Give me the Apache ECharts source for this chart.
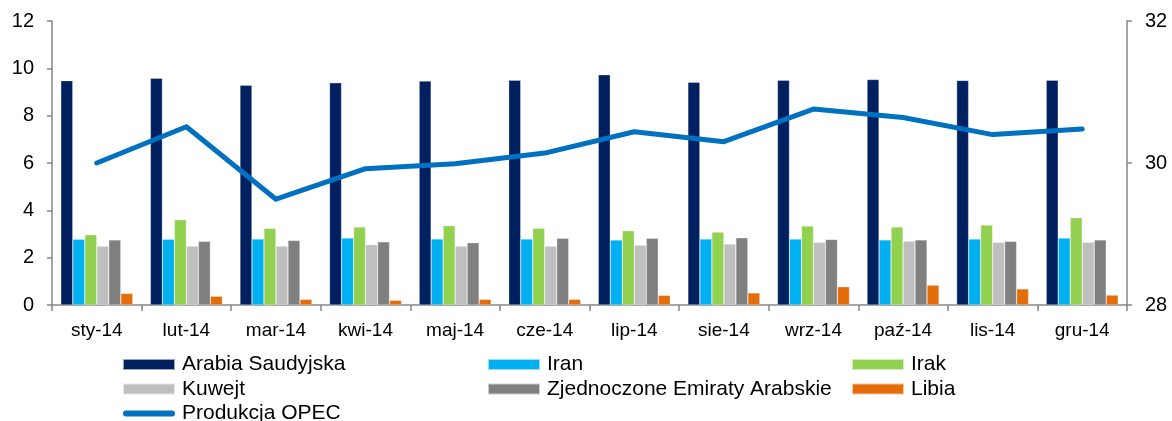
<!DOCTYPE html>
<html>
<head>
<meta charset="utf-8">
<title>OPEC</title>
<script src="https://cdn.jsdelivr.net/npm/echarts@6/dist/echarts.min.js"></script>
<style>
  html, body { margin: 0; padding: 0; background: #fff; }
  #main { width: 1172px; height: 421px; }
</style>
</head>
<body>
<div id="main"></div>
<script>
var months = ['sty-14', 'lut-14', 'mar-14', 'kwi-14', 'maj-14', 'cze-14', 'lip-14', 'sie-14', 'wrz-14', 'paź-14', 'lis-14', 'gru-14'];

var arabia = [9.48, 9.58, 9.29, 9.39, 9.46, 9.5, 9.73, 9.41, 9.5, 9.53, 9.49, 9.5];
var iran = [2.78, 2.78, 2.79, 2.83, 2.79, 2.79, 2.75, 2.79, 2.79, 2.75, 2.79, 2.83];
var irak = [2.97, 3.6, 3.24, 3.3, 3.35, 3.24, 3.14, 3.08, 3.34, 3.3, 3.38, 3.69];
var kuwejt = [2.49, 2.49, 2.49, 2.55, 2.49, 2.49, 2.53, 2.58, 2.65, 2.7, 2.65, 2.65];
var zea = [2.75, 2.69, 2.73, 2.67, 2.63, 2.82, 2.82, 2.84, 2.77, 2.75, 2.69, 2.75];
var libia = [0.49, 0.37, 0.24, 0.2, 0.24, 0.24, 0.41, 0.51, 0.77, 0.84, 0.68, 0.42];
var opec = [30.0, 30.51, 29.49, 29.92, 29.99, 30.14, 30.44, 30.3, 30.76, 30.64, 30.4, 30.48];

var leftTicks = { min: 0, max: 12, interval: 2 };
var rightTicks = { min: 28, max: 32, interval: 2 };

var font = 'Liberation Sans, Arial, sans-serif';
var axisGray = '#868686';
// thin rounded line for the line series legend (the two M points keep the 52x11 box)
var lineIcon = 'path://M0,0 M52,11 M3,2.5 L49,2.5 A3,3,0,0,1,49,8.5 L3,8.5 A3,3,0,0,1,3,2.5 Z';

function bar(name, data, color) {
  return {
    name: name,
    type: 'bar',
    data: data,
    barWidth: 12,
    barGap: '0%',
    itemStyle: { color: color, borderColor: 'rgba(255,255,255,0.6)', borderWidth: 0.5 }
  };
}

// one legend per column, Excel puts them in a 3-column grid
function legendCol(left, names) {
  return {
    orient: 'vertical',
    left: left,
    top: 354,
    height: 70,
    padding: 0,
    itemWidth: 52,
    itemHeight: 11,
    itemGap: 3.5,
    icon: 'rect',
    data: names.map(function (n) {
      return n === 'Produkcja OPEC' ? { name: n, icon: lineIcon, itemStyle: { color: '#0070C0' } } : n;
    }),
    textStyle: { fontFamily: font, fontSize: 21, lineHeight: 20, color: '#000', padding: [0, 0, 0, 2] }
  };
}

var myChart = echarts.init(document.getElementById('main'));
var option = {
  animation: false,
  textStyle: { fontFamily: font },
  grid: { left: 52, right: 45, top: 21, bottom: 116 },
  legend: [
    legendCol(122, ['Arabia Saudyjska', 'Kuwejt', 'Produkcja OPEC']),
    legendCol(487, ['Iran', 'Zjednoczone Emiraty Arabskie']),
    legendCol(851, ['Irak', 'Libia'])
  ],
  xAxis: {
    type: 'category',
    data: months,
    axisLine: { lineStyle: { color: axisGray, width: 1.5 } },
    axisTick: { show: true, length: 6, lineStyle: { color: axisGray, width: 1.5 } },
    axisLabel: { color: '#000', fontSize: 19, margin: 16, fontFamily: font }
  },
  yAxis: [
    {
      type: 'value',
      min: leftTicks.min, max: leftTicks.max, interval: leftTicks.interval,
      splitLine: { show: false },
      axisLine: { show: true, lineStyle: { color: axisGray, width: 1.5 } },
      axisTick: { show: true, length: 5, lineStyle: { color: axisGray, width: 1.5 } },
      axisLabel: { color: '#000', fontSize: 20, margin: 18, fontFamily: font }
    },
    {
      type: 'value',
      position: 'right',
      min: rightTicks.min, max: rightTicks.max, interval: rightTicks.interval,
      splitLine: { show: false },
      axisLine: { show: true, lineStyle: { color: axisGray, width: 1.5 } },
      axisTick: { show: true, length: 5, lineStyle: { color: axisGray, width: 1.5 } },
      axisLabel: { color: '#000', fontSize: 20, margin: 18, fontFamily: font }
    }
  ],
  series: [
    bar('Arabia Saudyjska', arabia, '#002060'),
    bar('Iran', iran, '#00B0F0'),
    bar('Irak', irak, '#92D050'),
    bar('Kuwejt', kuwejt, '#BFBFBF'),
    bar('Zjednoczone Emiraty Arabskie', zea, '#808080'),
    bar('Libia', libia, '#E46C0A'),
    {
      name: 'Produkcja OPEC',
      type: 'line',
      yAxisIndex: 1,
      data: opec,
      symbol: 'none',
      z: 5,
      lineStyle: { color: '#0070C0', width: 5, cap: 'round', join: 'round' },
      itemStyle: { color: '#0070C0' }
    }
  ]
};
myChart.setOption(option);
</script>
</body>
</html>
